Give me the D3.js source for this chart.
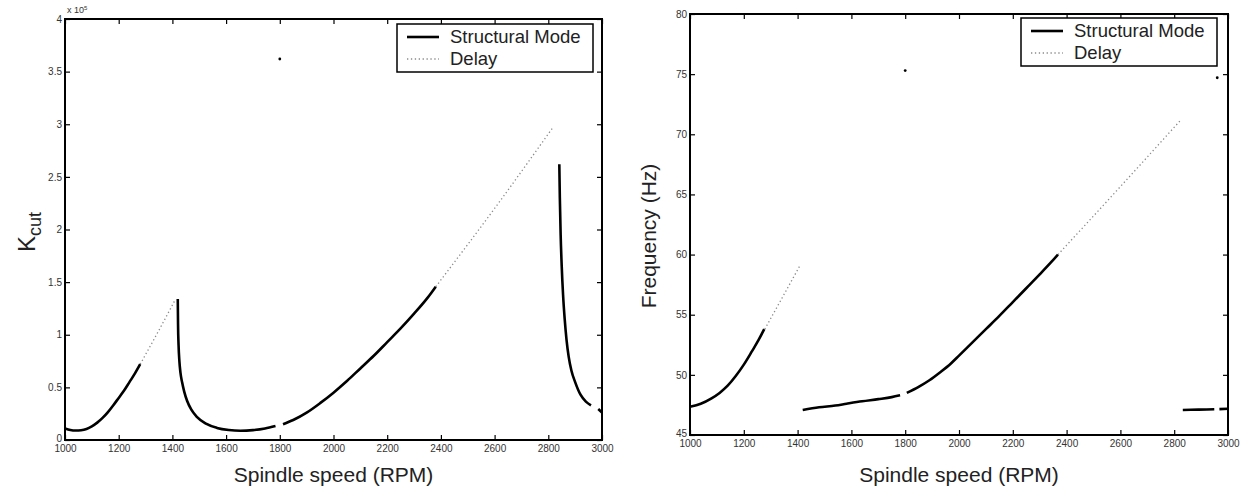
<!DOCTYPE html>
<html>
<head>
<meta charset="utf-8">
<script src="https://cdn.jsdelivr.net/npm/d3@7"></script>
<style>
  body { margin: 0; background: #fff; }
  text { font-family: "Liberation Sans", Arial, Helvetica, sans-serif; }
</style>
</head>
<body>
<div id="viz"></div>
<script>
// tick values
const rpmTicks = [1000, 1200, 1400, 1600, 1800, 2000, 2200, 2400, 2600, 2800, 3000];
const kcutTicks = [0, 0.5, 1, 1.5, 2, 2.5, 3, 3.5, 4];
const freqTicks = [45, 50, 55, 60, 65, 70, 75, 80];

// left panel: K_cut (x 10^5) vs spindle speed
const kcutModeA = [[1000, 0.11], [1020, 0.095], [1040, 0.09], [1060, 0.093], [1080, 0.105], [1100, 0.13], [1120, 0.165],
  [1140, 0.21], [1160, 0.265], [1180, 0.33], [1200, 0.40], [1220, 0.47], [1240, 0.55], [1260, 0.63], [1280, 0.72]];
const kcutModeB = [[1420, 1.34], [1421, 1.1], [1423, 0.9], [1426, 0.75], [1430, 0.64], [1436, 0.55], [1444, 0.46],
  [1455, 0.37], [1470, 0.29], [1491, 0.22], [1525, 0.155], [1566, 0.115], [1610, 0.095], [1653, 0.088],
  [1700, 0.094], [1745, 0.11], [1784, 0.134]];
const kcutModeC = [[1812, 0.15], [1850, 0.19], [1900, 0.26], [1950, 0.35], [2000, 0.45], [2050, 0.56], [2100, 0.68],
  [2150, 0.80], [2200, 0.93], [2250, 1.06], [2300, 1.20], [2350, 1.35], [2381, 1.457]];
const kcutModeD = [[2841, 2.62], [2843, 2.3], [2846, 1.95], [2850, 1.65], [2855, 1.38], [2861, 1.15], [2868, 0.95],
  [2876, 0.79], [2886, 0.66], [2900, 0.55], [2920, 0.43], [2940, 0.365], [2959, 0.33]];
const kcutModeE = [[2986, 0.295], [3000, 0.262]];
const kcutDelayA = [[1280, 0.72], [1345, 1.02], [1410, 1.33]];
const kcutDelayB = [[2381, 1.457], [2600, 2.2], [2820, 2.98]];
const kcutDots = [[1800, 3.62]];

// right panel: frequency (Hz) vs spindle speed
const freqModeA = [[1000, 47.35], [1040, 47.6], [1080, 48.05], [1110, 48.5], [1140, 49.1], [1170, 49.9],
  [1200, 50.85], [1230, 51.95], [1255, 52.9], [1276, 53.8]];
const freqModeB = [[1419, 47.08], [1480, 47.3], [1540, 47.45], [1582, 47.6], [1640, 47.8], [1700, 47.98], [1750, 48.15], [1781, 48.3]];
const freqModeC = [[1806, 48.5], [1850, 49.0], [1890, 49.55], [1929, 50.2], [1970, 50.95], [2000, 51.6], [2050, 52.7],
  [2100, 53.8], [2150, 54.9], [2200, 56.05], [2250, 57.2], [2300, 58.35], [2340, 59.3], [2368, 60.0]];
const freqModeD = [[2832, 47.08], [2890, 47.11], [2949, 47.14]];
const freqModeE = [[2968, 47.15], [3000, 47.18]];
const freqDelayA = [[1278, 53.8], [1345, 56.5], [1409, 59.1]];
const freqDelayB = [[2368, 60.0], [2600, 65.65], [2825, 71.2]];
const freqDots = [[1800, 75.3], [2960, 74.7]];

const legendLabels = ["Structural Mode", "Delay"];

const W = 1250, H = 492;
const svg = d3.select("#viz").append("svg")
  .attr("width", W)
  .attr("height", H)
  .attr("viewBox", `0 0 ${W} ${H}`);

function drawPanel(opts) {
  const x = d3.scaleLinear().domain([1000, 3000]).range([opts.left, opts.right]);
  const y = d3.scaleLinear().domain(opts.yDomain).range([opts.bottom, opts.top]);
  const g = svg.append("g");

  const line = d3.line()
    .x(d => x(d[0]))
    .y(d => y(d[1]))
    .curve(d3.curveMonotoneX);

  // axes with inward ticks on all four sides
  const tick = 5;
  g.append("g")
    .attr("transform", `translate(0,${opts.bottom})`)
    .call(d3.axisBottom(x).tickValues(rpmTicks).tickSize(-tick).tickPadding(5).tickFormat(d3.format("d")))
    .call(a => a.select(".domain").remove());
  g.append("g")
    .attr("transform", `translate(0,${opts.top})`)
    .call(d3.axisTop(x).tickValues(rpmTicks).tickSize(-tick).tickFormat(""))
    .call(a => a.select(".domain").remove());
  g.append("g")
    .attr("transform", `translate(${opts.left},0)`)
    .call(d3.axisLeft(y).tickValues(opts.yTicks).tickSize(-tick).tickPadding(3).tickFormat(opts.yFormat))
    .call(a => a.select(".domain").remove());
  g.append("g")
    .attr("transform", `translate(${opts.right},0)`)
    .call(d3.axisRight(y).tickValues(opts.yTicks).tickSize(-tick).tickFormat(""))
    .call(a => a.select(".domain").remove());

  g.selectAll(".tick line").attr("stroke", "#000").attr("stroke-width", 1.2);
  g.selectAll(".tick text")
    .attr("fill", "#333")
    .style("font-size", "10px")
    .style("font-family", "'Liberation Sans', Arial, sans-serif");
  g.selectAll(".tick text").filter(d => d === opts.yDomain[0] && opts.yTicks.includes(d))
    .attr("dy", "0.1em");

  // frame
  g.append("rect")
    .attr("x", opts.left)
    .attr("y", opts.top)
    .attr("width", opts.right - opts.left)
    .attr("height", opts.bottom - opts.top)
    .attr("fill", "none")
    .attr("stroke", "#000")
    .attr("stroke-width", 2);

  // delay lines
  opts.delay.forEach(seg => {
    g.append("path")
      .attr("d", line(seg))
      .attr("fill", "none")
      .attr("stroke", "#8a8a8a")
      .attr("stroke-width", 1.3)
      .attr("stroke-dasharray", "1.3,2.6");
  });

  // structural mode lines
  opts.modes.forEach(seg => {
    g.append("path")
      .attr("d", line(seg))
      .attr("fill", "none")
      .attr("stroke", "#000")
      .attr("stroke-width", 2.6);
  });

  g.selectAll("circle.dot")
    .data(opts.dots)
    .join("circle")
      .attr("class", "dot")
      .attr("cx", d => x(d[0]))
      .attr("cy", d => y(d[1]))
      .attr("r", 1.4)
      .attr("fill", "#000");

  // legend
  const lg = g.append("g").attr("transform", `translate(${opts.legend[0]},${opts.legend[1]})`);
  lg.append("rect")
    .attr("width", 196)
    .attr("height", 48)
    .attr("fill", "#fff")
    .attr("stroke", "#000")
    .attr("stroke-width", 1.5);
  lg.append("line")
    .attr("x1", 10).attr("x2", 42).attr("y1", 13).attr("y2", 13)
    .attr("stroke", "#000").attr("stroke-width", 2.6);
  lg.append("line")
    .attr("x1", 10).attr("x2", 42).attr("y1", 35).attr("y2", 35)
    .attr("stroke", "#8a8a8a").attr("stroke-width", 1.3).attr("stroke-dasharray", "1.3,2.6");
  lg.selectAll("text")
    .data(legendLabels)
    .join("text")
      .attr("x", 53)
      .attr("y", (d, i) => 13 + i * 22)
      .attr("dy", "0.35em")
      .attr("fill", "#222")
      .style("font-size", "18.5px")
      .text(d => d);

  // x title
  g.append("text")
    .attr("x", (opts.left + opts.right) / 2)
    .attr("y", opts.xTitleY)
    .attr("text-anchor", "middle")
    .attr("fill", "#222")
    .style("font-size", "21px")
    .text("Spindle speed (RPM)");

  return { g, x, y };
}

const leftPanel = drawPanel({
  left: 65, right: 602, top: 19, bottom: 440,
  yDomain: [0, 4], yTicks: kcutTicks, yFormat: d => d,
  modes: [kcutModeA, kcutModeB, kcutModeC, kcutModeD, kcutModeE],
  delay: [kcutDelayA, kcutDelayB],
  dots: kcutDots,
  legend: [397, 24],
  xTitleY: 482
});

// exponent label
leftPanel.g.append("text")
  .attr("x", 67)
  .attr("y", 13)
  .attr("fill", "#333")
  .style("font-size", "9px")
  .text("x 10")
  .append("tspan")
    .attr("dy", "-0.5em")
    .style("font-size", "6px")
    .text("5");

// K_cut title
leftPanel.g.append("text")
  .attr("transform", "translate(35,232) rotate(-90)")
  .attr("text-anchor", "middle")
  .attr("fill", "#222")
  .style("font-size", "24px")
  .text("K")
  .append("tspan")
    .attr("dy", "0.35em")
    .style("font-size", "18px")
    .text("cut");

const rightPanel = drawPanel({
  left: 690, right: 1228, top: 14, bottom: 435,
  yDomain: [45, 80], yTicks: freqTicks, yFormat: d => d,
  modes: [freqModeA, freqModeB, freqModeC, freqModeD, freqModeE],
  delay: [freqDelayA, freqDelayB],
  dots: freqDots,
  legend: [1021, 18],
  xTitleY: 482
});

rightPanel.g.append("text")
  .attr("transform", "translate(656,236) rotate(-90)")
  .attr("text-anchor", "middle")
  .attr("fill", "#222")
  .style("font-size", "21px")
  .text("Frequency (Hz)");
</script>
</body>
</html>
